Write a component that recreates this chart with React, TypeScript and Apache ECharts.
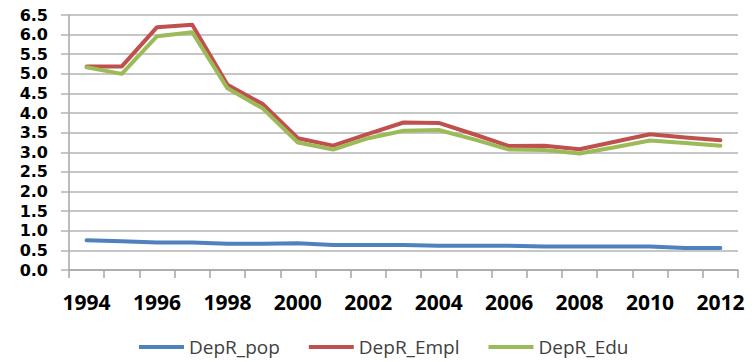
import React, { useEffect, useRef } from "react";
import * as echarts from "echarts";

const years = ["1994","1995","1996","1997","1998","1999","2000","2001","2002","2003","2004","2005","2006","2007","2008","2009","2010","2011","2012"];
const depRPop = [0.76,0.73,0.70,0.70,0.67,0.67,0.68,0.64,0.64,0.64,0.62,0.62,0.62,0.60,0.60,0.60,0.60,0.56,0.56];
const depREmpl = [5.19,5.19,6.19,6.25,4.72,4.23,3.36,3.17,3.47,3.76,3.75,3.46,3.16,3.17,3.08,3.27,3.46,3.38,3.31];
const depREdu = [5.17,5.0,5.96,6.06,4.63,4.12,3.25,3.07,3.36,3.55,3.57,3.33,3.07,3.06,2.97,3.13,3.30,3.24,3.17];
const seriesNames = ["DepR_pop","DepR_Empl","DepR_Edu"];
const colors = ["#4F81BD","#C0504D","#9BBB59"];

export default function App() {
  const ref = useRef<HTMLDivElement>(null);
  useEffect(() => {
    document.body.style.margin = "0";
    const chart = echarts.init(ref.current!, null, { renderer: "svg" });
    const data = [depRPop, depREmpl, depREdu];
    chart.setOption({
      animation: false,
      backgroundColor: "#ffffff",
      grid: { left: 69, right: 17, top: 15, bottom: 92, containLabel: false },
      legend: {
        left: 139,
        top: 336,
        padding: 0,
        icon: "rect",
        itemWidth: 45,
        itemHeight: 4,
        itemGap: 29,
        textStyle: { fontFamily: "Open Sans", fontSize: 19, color: "#404040", lineHeight: 22 },
        data: seriesNames,
      },
      xAxis: {
        type: "category",
        data: years,
        boundaryGap: true,
        axisLine: { lineStyle: { color: "#A6A6A6", width: 1.5 } },
        axisTick: { show: true, interval: 0, length: 8, lineStyle: { color: "#A6A6A6", width: 1.5 } },
        axisLabel: {
          interval: 1,
          margin: 21,
          fontFamily: "Open Sans",
          fontWeight: "bold",
          fontSize: 21,
          color: "#000000",
        },
        splitLine: { show: false },
      },
      yAxis: {
        type: "value",
        min: 0,
        max: 6.5,
        interval: 0.5,
        axisLine: { show: true, lineStyle: { color: "#A6A6A6", width: 1.5 } },
        axisTick: { show: true, length: 8, lineStyle: { color: "#B3B3B3", width: 1.5 } },
        axisLabel: {
          margin: 21,
          fontFamily: "DejaVu Sans",
          fontWeight: "bold",
          fontSize: 16,
          color: "#000000",
          formatter: (v: number) => v.toFixed(1),
        },
        splitLine: { show: true, lineStyle: { color: "#B3B3B3", width: 1.5 } },
      },
      series: seriesNames.map((name, i) => ({
        name,
        type: "line",
        data: data[i],
        symbol: "none",
        showSymbol: false,
        color: colors[i],
        lineStyle: { width: 4, color: colors[i], cap: "round", join: "round" },
      })),
    });
    return () => chart.dispose();
  }, []);
  return <div ref={ref} style={{ width: 755, height: 362 }} />;
}
